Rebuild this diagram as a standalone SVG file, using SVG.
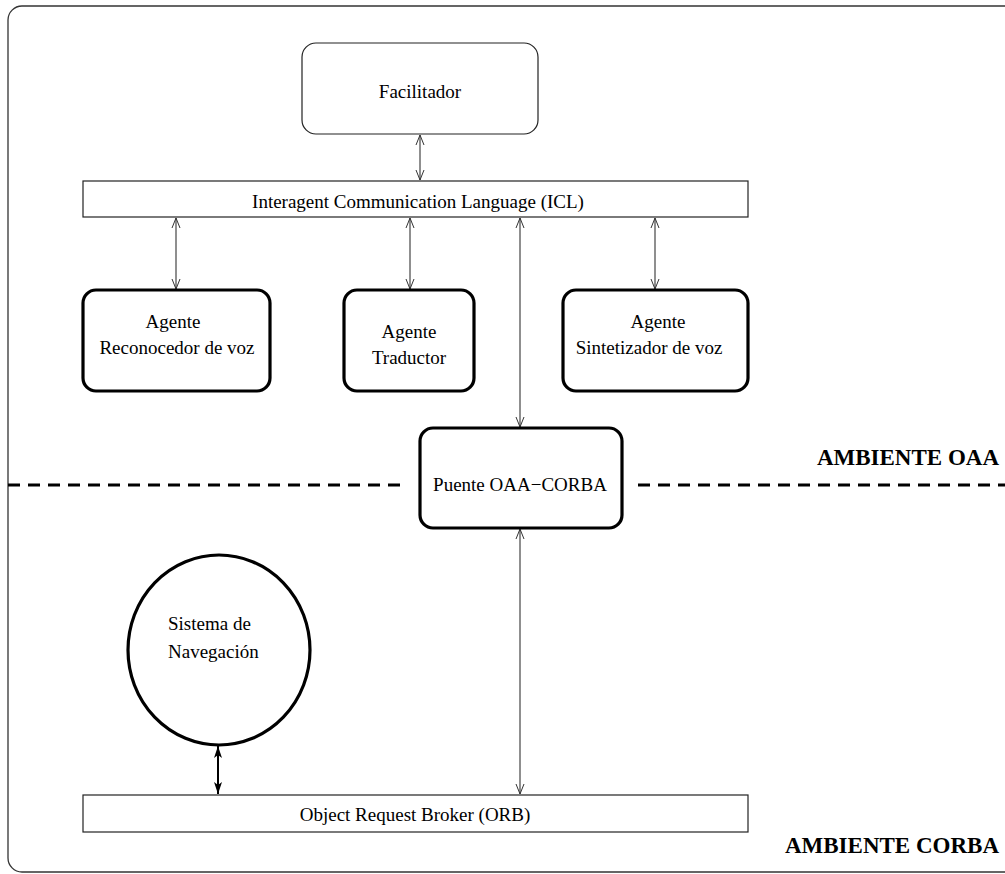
<svg xmlns="http://www.w3.org/2000/svg" width="1005" height="874" viewBox="0 0 1005 874">
<style>
text{font-family:"Liberation Serif","Times New Roman",serif;font-size:19px;fill:#000}
.c{text-anchor:middle}
.b{font-weight:bold;font-size:23px;text-anchor:end}
.thin{fill:#fff;stroke:#222;stroke-width:1.2}
.thick{fill:#fff;stroke:#000;stroke-width:3.2}
.ln{stroke:#333;stroke-width:1.1;fill:none}
</style>
<defs>
<marker id="oa" viewBox="0 0 10 10" refX="10" refY="5" markerWidth="10" markerHeight="10" markerUnits="userSpaceOnUse" orient="auto-start-reverse">
<path d="M0,1 L10,5 L0,9" fill="none" stroke="#333" stroke-width="1"/>
</marker>
<marker id="fa" viewBox="0 0 12 8" refX="12" refY="4" markerWidth="12" markerHeight="8" markerUnits="userSpaceOnUse" orient="auto-start-reverse">
<path d="M0,0 L12,4 L0,8 L3,4 Z" fill="#000"/>
</marker>
</defs>
<rect id="frame" x="8" y="6" width="1012" height="866" rx="14" fill="none" stroke="#333" stroke-width="1.3"/>
<g id="divider">
<line x1="8" y1="485" x2="400" y2="485" stroke="#000" stroke-width="3" stroke-dasharray="12,8"/>
<line x1="638" y1="485" x2="1005" y2="485" stroke="#000" stroke-width="3" stroke-dasharray="12,8"/>
</g>
<g id="connectors">
<line class="ln" x1="420" y1="135" x2="420" y2="180" marker-start="url(#oa)" marker-end="url(#oa)"/>
<line class="ln" x1="176" y1="218" x2="176" y2="289" marker-start="url(#oa)" marker-end="url(#oa)"/>
<line class="ln" x1="410" y1="218" x2="410" y2="289" marker-start="url(#oa)" marker-end="url(#oa)"/>
<line class="ln" x1="655" y1="218" x2="655" y2="289" marker-start="url(#oa)" marker-end="url(#oa)"/>
<line class="ln" x1="520" y1="218" x2="520" y2="427" marker-start="url(#oa)" marker-end="url(#oa)"/>
<line class="ln" x1="520" y1="529" x2="520" y2="794" marker-start="url(#oa)" marker-end="url(#oa)"/>
<line x1="218" y1="746" x2="218" y2="794" stroke="#000" stroke-width="2" marker-start="url(#fa)" marker-end="url(#fa)"/>
</g>
<g id="facilitador">
<rect class="thin" x="302" y="43" width="236" height="91" rx="14"/>
<text class="c" x="420" y="98">Facilitador</text>
</g>
<g id="icl">
<rect class="thin" x="83" y="181" width="665" height="36"/>
<text class="c" x="418" y="208">Interagent Communication Language (ICL)</text>
</g>
<g id="reconocedor">
<rect class="thick" x="83" y="290" width="187" height="101" rx="13"/>
<text class="c" x="173" y="328">Agente</text>
<text class="c" x="177" y="354">Reconocedor de voz</text>
</g>
<g id="traductor">
<rect class="thick" x="344" y="290" width="130" height="101" rx="13"/>
<text class="c" x="409" y="338">Agente</text>
<text class="c" x="409" y="364">Traductor</text>
</g>
<g id="sintetizador">
<rect class="thick" x="563" y="290" width="185" height="101" rx="13"/>
<text class="c" x="658" y="328">Agente</text>
<text class="c" x="649" y="354">Sintetizador de voz</text>
</g>
<g id="puente">
<rect class="thick" x="420" y="428" width="202" height="100" rx="13"/>
<text class="c" x="520" y="491">Puente OAA−CORBA</text>
</g>
<g id="navegacion">
<ellipse cx="219" cy="650" rx="91" ry="95" fill="#fff" stroke="#000" stroke-width="3.2"/>
<text x="168" y="630">Sistema de</text>
<text x="168" y="658">Navegación</text>
</g>
<g id="orb">
<rect class="thin" x="83" y="795" width="665" height="37"/>
<text class="c" x="415" y="821">Object Request Broker (ORB)</text>
</g>
<g id="labels">
<text class="b" x="999" y="465">AMBIENTE OAA</text>
<text class="b" x="999" y="853">AMBIENTE CORBA</text>
</g>
</svg>
